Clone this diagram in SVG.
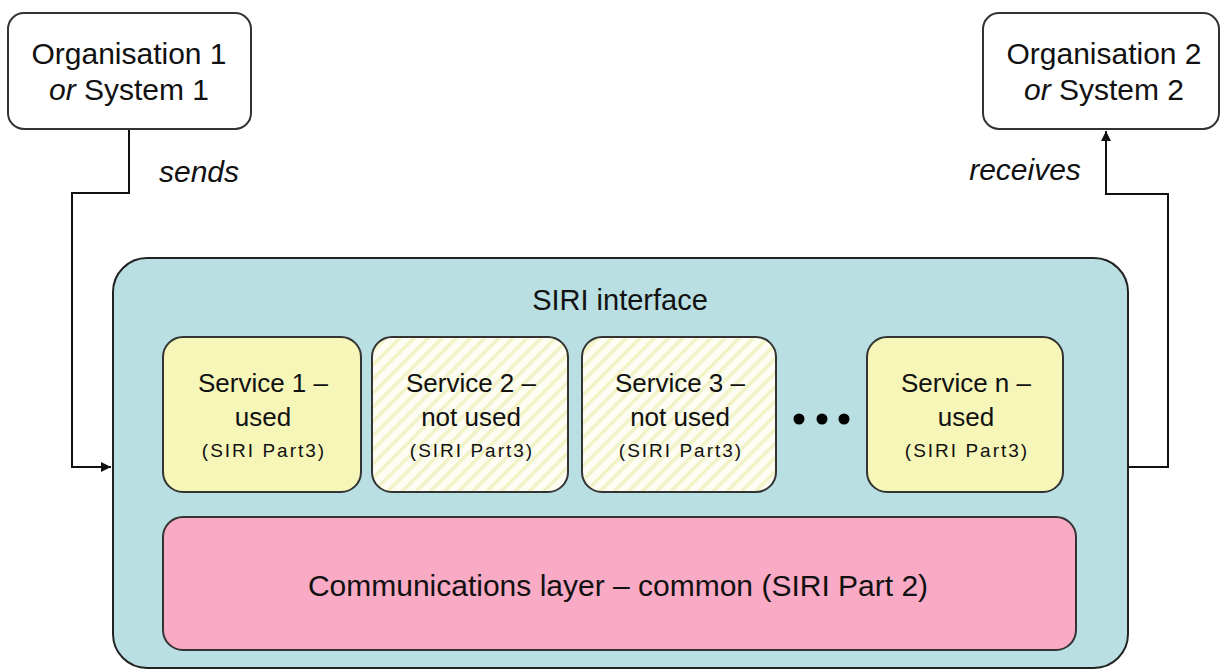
<svg xmlns="http://www.w3.org/2000/svg" width="1221" height="671" viewBox="0 0 1221 671">
<style>
.t{font-family:"Liberation Sans",Arial,sans-serif;fill:#111;text-anchor:middle}
.org{font-size:30px}
.lbl{font-size:30px;font-style:italic}
.svc{font-size:26px}
.sm{font-size:19px;letter-spacing:2px}
.box{stroke:#333;stroke-width:2}
.conn{fill:none;stroke:#111;stroke-width:2}
</style>
<defs>
<pattern id="hatch" patternUnits="userSpaceOnUse" width="10" height="10" patternTransform="rotate(45)">
<rect width="10" height="10" fill="#fdfdf3"/>
<rect width="3.5" height="10" fill="#f1f3c6"/>
</pattern>
<marker id="arr" viewBox="0 0 10 10" refX="10" refY="5" markerWidth="5" markerHeight="5" orient="auto" markerUnits="strokeWidth">
<path d="M0,0 L10,5 L0,10 z" fill="#111"/>
</marker>
</defs>
<rect width="1221" height="671" fill="#fff"/>

<g id="connectors">
<path class="conn" d="M129,129 V193 H72 V467 H111" marker-end="url(#arr)"/>
<path class="conn" d="M1128,467 H1168 V194 H1106 V131" marker-end="url(#arr)"/>
<text class="t lbl" x="199" y="182">sends</text>
<text class="t lbl" x="1025" y="180">receives</text>
</g>

<g id="org1">
<rect class="box" x="8" y="13" width="243" height="116" rx="16" fill="#fff"/>
<text class="t org" x="129" y="64">Organisation 1</text>
<text class="t org" x="129" y="100"><tspan font-style="italic">or</tspan> System 1</text>
</g>

<g id="org2">
<rect class="box" x="983" y="13" width="236" height="116" rx="16" fill="#fff"/>
<text class="t org" x="1104" y="64">Organisation 2</text>
<text class="t org" x="1104" y="100"><tspan font-style="italic">or</tspan> System 2</text>
</g>

<g id="siri">
<rect x="113" y="258" width="1015" height="410" rx="34" fill="#b9dfe2" stroke="#222" stroke-width="2"/>
<text class="t" style="font-size:29px" x="620" y="310">SIRI interface</text>
</g>

<g id="service1">
<rect class="box" x="163" y="337" width="198" height="155" rx="20" fill="#f6f6b9"/>
<text class="t svc" x="263" y="392">Service 1 –</text>
<text class="t svc" x="263" y="426">used</text>
<text class="t sm" x="264" y="457">(SIRI Part3)</text>
</g>

<g id="service2">
<rect class="box" x="372" y="337" width="196" height="155" rx="20" fill="url(#hatch)"/>
<text class="t svc" x="471" y="392">Service 2 –</text>
<text class="t svc" x="471" y="426">not used</text>
<text class="t sm" x="472" y="457">(SIRI Part3)</text>
</g>

<g id="service3">
<rect class="box" x="582" y="337" width="194" height="155" rx="20" fill="url(#hatch)"/>
<text class="t svc" x="680" y="392">Service 3 –</text>
<text class="t svc" x="680" y="426">not used</text>
<text class="t sm" x="681" y="457">(SIRI Part3)</text>
</g>

<g id="ellipsis">
<circle cx="799" cy="419" r="5.5" fill="#000"/>
<circle cx="822" cy="419" r="5.5" fill="#000"/>
<circle cx="844" cy="419" r="5.5" fill="#000"/>
</g>

<g id="servicen">
<rect class="box" x="867" y="337" width="196" height="155" rx="20" fill="#f6f6b9"/>
<text class="t svc" x="966" y="392">Service n –</text>
<text class="t svc" x="966" y="426">used</text>
<text class="t sm" x="967" y="457">(SIRI Part3)</text>
</g>

<g id="comm">
<rect class="box" x="163" y="517" width="913" height="133" rx="20" fill="#f9aac5"/>
<text class="t" style="font-size:30px" x="618" y="596">Communications layer – common (SIRI Part 2)</text>
</g>
</svg>
